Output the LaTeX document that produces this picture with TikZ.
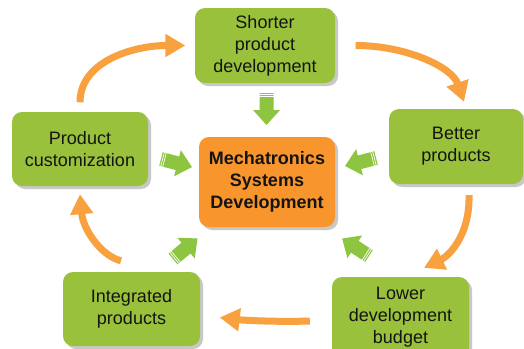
\documentclass[tikz,border=0pt]{standalone}
\usepackage{fontspec}
\setmainfont{Liberation Sans}
\usetikzlibrary{arrows.meta,shadows}
\definecolor{boxgreen}{HTML}{99C13C}
\definecolor{boxorange}{HTML}{F8952C}
\definecolor{arrorange}{HTML}{F9A03F}
\definecolor{arrgreen}{HTML}{8DC440}
\tikzset{
  gbox/.style={rectangle, rounded corners=10pt, fill=boxgreen, minimum width=137pt,
    minimum height=75pt, align=center, inner sep=0pt, text=black!92,
    font=\fontsize{18}{22}\selectfont,
    drop shadow={shadow xshift=3pt, shadow yshift=-3pt, opacity=0.3, fill=black!70}},
  obox/.style={gbox, fill=boxorange, minimum width=136pt, minimum height=90pt,
    font=\bfseries\fontsize{18}{22}\selectfont},
  oarrow/.style={draw=arrorange, line width=7pt,
    -{Triangle[length=20pt,width=22pt]}},
  garrow/.pic={
    \fill[arrgreen] (0,-7) -- (17,-7) -- (17,-13.5) -- (32,0) -- (17,13.5) -- (17,7) -- (0,7) -- cycle;
    \draw[white, line width=0.7pt] (1.6,-7.5) -- (1.6,7.5) (3.6,-7.5) -- (3.6,7.5);
  }
}
\begin{document}
\begin{tikzpicture}[x=1pt,y=-1pt]
\useasboundingbox (0,0) rectangle (524,348);
\fill[white] (0,0) rectangle (524,348);

\node[gbox, minimum width=140pt] (tb) at (265,45.5) {Shorter\\product\\development};
\node[gbox, minimum width=136pt, minimum height=74pt] (lc) at (80,149) {Product\\customization};
\node[gbox, minimum width=134pt] (rb) at (456,146.5) {Better\\products};
\node[gbox, minimum height=74pt] (bl) at (131.5,309) {Integrated\\products};
\node[gbox, minimum height=81pt] (br) at (400.5,317.5) {Lower\\development\\budget};
\node[obox] (mc) at (267,182) {Mechatronics\\Systems\\Development};

% orange cycle arrows
\draw[oarrow] ([yshift=9.5pt]lc.north) .. controls +(0,-42) and +(-50,0) .. ([xshift=-9.5pt]tb.west);
\draw[oarrow] ([xshift=20.5pt]tb.east) .. controls +(50,0) and +(-12,-35) .. ([xshift=8pt,yshift=7pt]rb.north);
\draw[oarrow] ([xshift=13pt,yshift=-11pt]rb.south) .. controls +(1,40) and +(25,-12) .. ([xshift=23.5pt,yshift=9pt]br.north);
\draw[oarrow] ([xshift=-22pt,yshift=-3.5pt]br.west) .. controls +(-30,1) and +(26,3) .. ([xshift=19.5pt,yshift=-8.5pt]bl.east);
\draw[oarrow] ([xshift=-10.5pt,yshift=11pt]bl.north) .. controls +(-20,-5) and +(3,35) .. ([yshift=-8pt]lc.south);

% green block arrows towards the centre
\pic[rotate=-90] at (266.5,93) {garrow};
\pic[rotate=-14.5] at (161,159) {garrow};
\pic[rotate=194.5] at (376,158) {garrow};
\pic[rotate=40] at (173,259) {garrow};
\pic[rotate=147] at (369,256) {garrow};
\end{tikzpicture}
\end{document}
